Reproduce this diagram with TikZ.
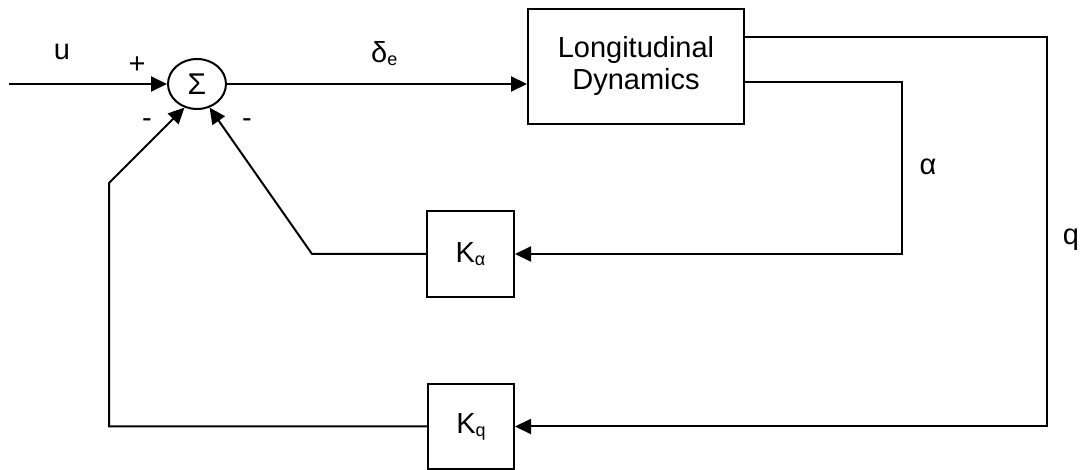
\documentclass[tikz,border=0pt]{standalone}
\usepackage{fontspec}
\setmainfont{Liberation Sans}
\usetikzlibrary{arrows.meta,calc,shapes.geometric}
\newcommand{\lowsub}[1]{\raisebox{-3pt}{\fontsize{18}{18}\selectfont #1}}
\begin{document}
\begin{tikzpicture}[x=1pt,y=-1pt,
  wire/.style={line width=2pt},
  arr/.style={wire,-{Triangle[length=16pt,width=15pt]}},
  blockbox/.style={draw,line width=2pt,inner sep=0pt,align=center,font=\fontsize{29}{32}\selectfont},
  lbl/.style={inner sep=0pt,font=\fontsize{29}{32}\selectfont}]
\fill[white] (0,0) rectangle (1080,470);
\useasboundingbox (0,0) rectangle (1080,470);

% blocks
\node[draw, ellipse, line width=2pt, minimum width=58pt, minimum height=50pt,
      inner sep=0pt, font=\fontsize{30}{30}\selectfont] (sum) at (197,84) {Σ};
\node[blockbox, minimum width=216pt, minimum height=115pt] (plant) at (636,66.5) {Longitudinal\\Dynamics};
\node[blockbox, minimum width=87pt, minimum height=86pt] (ka) at (470.5,254) {K\lowsub{α}};
\node[blockbox, minimum width=86pt, minimum height=85pt] (kq) at (471,426.5) {K\lowsub{q}};

% helper coordinates
\coordinate (in) at (9,84);
\coordinate (qo) at ($(plant.north east)!0.25!(plant.south east)$);
\coordinate (ao) at ($(plant.north east)!0.635!(plant.south east)$);
\coordinate (qr) at (1047,0);
\coordinate (ar) at (902,0);
\coordinate (ab) at (312,0);
\coordinate (qb) at (109,183);

% connectors
\draw[arr] (in) -- (sum.west);
\draw[arr] (sum.east) -- (sum.east -| plant.west);
\draw[arr] (qo) -- (qo -| qr) -- (qr |- kq.east) -- (kq.east);
\draw[arr] (ao) -- (ao -| ar) -- (ar |- ka.east) -- (ka.east);
\draw[arr] (ka.west) -- (ka.west -| ab) -- (sum.298);
\draw[arr] (kq.west) -- (kq.west -| qb) -- (qb) -- (sum.242);

% labels
\node[lbl, anchor=base] (lu) at (62,60) {u};
\node[lbl] (lplus) at (137,65) {+};
\node[lbl] (lm1) at (147,123) {-};
\node[lbl] (lm2) at (247,123) {-};
\node[lbl, anchor=base west] (lde) at (371,63) {δ\lowsub{e}};
\node[lbl, anchor=base] (lal) at (928,175) {α};
\node[lbl, anchor=base] (lq) at (1071,245) {q};
\end{tikzpicture}
\end{document}
